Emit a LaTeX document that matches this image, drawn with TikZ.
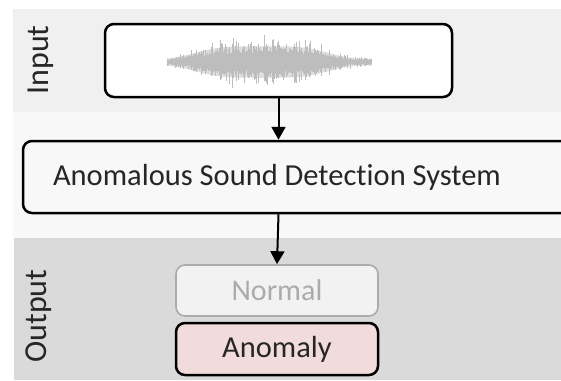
\documentclass[tikz,border=0pt]{standalone}
\usepackage{fontspec}
\setmainfont[Ligatures={NoCommon}]{Carlito}
\usetikzlibrary{arrows.meta}
\definecolor{bandin}{HTML}{F0F0F0}
\definecolor{bandmid}{HTML}{F8F8F8}
\definecolor{bandout}{HTML}{DADADA}
\definecolor{txt}{HTML}{262626}
\definecolor{pinkfill}{HTML}{F2DCDB}
\definecolor{normfill}{HTML}{F2F2F2}
\definecolor{normline}{HTML}{ABABAB}
\definecolor{wave}{HTML}{BDBDBD}
\definecolor{wavebody}{HTML}{DEDEDE}
\tikzset{
  x=1pt, y=-1pt,
  blackbox/.style={draw=black, line width=2.5pt, rounded corners=9pt, inner sep=0pt},
  greybox/.style={draw=normline, line width=1.6pt, rounded corners=9pt, fill=normfill, inner sep=0pt},
  bigtext/.style={font=\fontsize{30.5}{36}\selectfont, text=txt},
  sidelabel/.style={font=\fontsize{32}{38}\selectfont, text=txt, rotate=90},
  flow/.style={line width=2pt, -{Triangle[width=14pt,length=13pt]}}
}
\begin{document}
\begin{tikzpicture}
\useasboundingbox (0,0) rectangle (561,380);
\clip (0,0) rectangle (561,380);
\fill[white] (0,0) rectangle (561,380);
\fill[bandin] (13,9) rectangle (561,112);
\fill[bandmid] (13,112) rectangle (561,238);
\fill[bandout] (14,238) rectangle (561,380);
% labels
\node[sidelabel] (inlab) at (41,60) {Input};
\node[sidelabel] (outlab) at (39,316) {Output};
% input box
\node[blackbox, fill=white, minimum width=347pt, minimum height=73pt] (in) at (278.5,60.5) {};
% waveform body
\fill[wavebody] plot[domain=167:372, samples=80, smooth] (\x,{62-0.75*(4+17*exp(-((\x-262)/72)^4))})
  -- plot[domain=372:167, samples=80, smooth] (\x,{62+0.75*(4+17*exp(-((\x-262)/72)^4))}) -- cycle;
% waveform lines
\pgfmathsetseed{11}
\foreach \i in {0,...,204}{
  \pgfmathsetmacro{\xx}{167+\i}
  \pgfmathsetmacro{\env}{4+19*exp(-((\xx-262)/72)^4)}
  \pgfmathsetmacro{\r}{rnd}
  \pgfmathsetmacro{\amp}{\env*(0.45+0.55*\r*\r)}
  \pgfmathsetmacro{\off}{(rnd-0.5)*0.4*\amp}
  \draw[wave, line width=0.6pt] (\xx,62-\amp+\off) -- (\xx,62+\amp+\off);
}
% ASD box
\node[blackbox, fill=bandmid, minimum width=580pt, minimum height=72pt] (asd) at (313,177) {};
\node[bigtext] (asdtext) at (277,177) {Anomalous Sound Detection System};
% outputs
\node[greybox, minimum width=202pt, minimum height=51pt, font=\fontsize{30}{36}\selectfont, text=normline] (normal) at (277,290.5) {Normal};
\node[blackbox, fill=pinkfill, minimum width=202pt, minimum height=52pt, bigtext] (anom) at (277,349) {Anomaly};
% connectors
\draw[flow] (in.south) -- (in.south |- asd.north);
\draw[flow] (in.south |- asd.south) -- (normal.north);
\end{tikzpicture}
\end{document}
